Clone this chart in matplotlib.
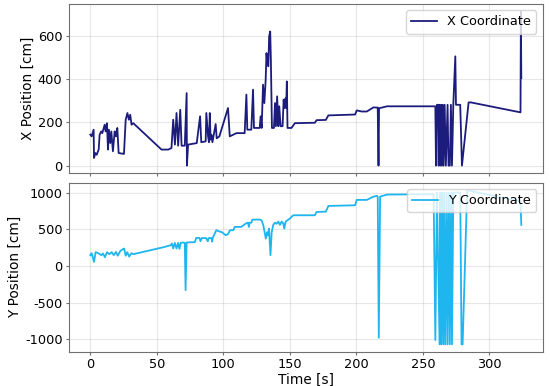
import matplotlib
matplotlib.use("Agg")
import matplotlib.pyplot as plt

plt.rcParams["axes.unicode_minus"] = False

# X position trace (time in s, position in cm)
t_x = [0, 1, 2.5, 2.8, 3.8, 4.8, 6.3, 7, 8.2, 9, 10.8, 11.5, 12.5, 13.3, 14, 15, 15.8, 17,
       18.3, 19.3, 20.3, 21.3, 25.3, 26.6, 27.9, 29, 30, 31, 32.3, 53.5, 58.6, 61, 62.3, 63.6,
       64.8, 66, 67.6, 68.6, 71, 72.4, 72.6, 73.5, 80, 82.5, 83.4, 86.7, 87.2, 88.5, 89.2, 89.8,
       90.4, 91, 91.8, 94.2, 95, 97, 103.5, 104.8, 109.8, 116, 117.3, 118, 121, 122.3, 123,
       127.3, 128, 128.8, 129.8, 130.8, 131.8, 132.4, 133, 133.8, 134.4, 135.2, 135.7, 136.5,
       138, 138.8, 139.5, 140.4, 141.3, 142, 143, 144.5, 145.3, 146, 146.8, 147.2, 147.7, 148.2,
       151.2, 153.7, 168.8, 170, 177, 178.9, 199, 200.2, 204, 207.8, 212.8, 216, 216.6, 217,
       223, 259.3, 259.8, 260.5, 261.5, 261.8, 262.2, 263, 263.6, 264.3, 264.8, 265.5, 266.3,
       267.2, 268.5, 269.2, 270.2, 271, 271.8, 272.8, 274.3, 274.8, 278, 279.3, 284.3, 286,
       323.3, 323.6, 323.9]
x_pos = [143, 135, 166, 35, 58, 50, 74, 143, 158, 150, 189, 158, 196, 74, 166, 104, 158, 66,
         158, 135, 174, 58, 54, 212, 243, 212, 235, 189, 196, 74, 74, 81, 212, 97,
         243, 92, 258, 92, 92, 335, 0, 97, 104, 228, 108, 112, 243, 135, 108, 243,
         120, 143, 108, 192, 126, 135, 266, 135, 150, 150, 328, 166, 166, 351, 174,
         174, 228, 174, 374, 289, 397, 520, 474, 459, 597, 620, 489, 174,
         174, 289, 182, 320, 182, 274, 182, 182, 305, 266, 312, 266, 389, 174,
         174, 196, 198, 210, 211, 232, 236, 255, 250, 250, 269, 268, 0, 265,
         274, 274, 0, 281, 281, 0, 281, 0, 281, 0, 281, 0, 281,
         0, 281, 0, 0, 281, 0, 281, 505, 281, 281, 0, 292, 292,
         246, 712, 405]

# Y position trace
t_y = [0, 1, 2.8, 4, 6, 8.3, 9.5, 11, 12.6, 14.3, 16, 17.6, 19.3, 20.6, 22.6, 25.4, 26.6,
       27.8, 29.2, 31, 32.3, 56, 60.5, 61.3, 62.3, 63.5, 64.8, 66, 67, 68, 69.8, 71, 71.6,
       72.4, 78.6, 79.6, 82, 82.8, 83.7, 87, 88.3, 89, 91, 91.6, 92, 94.7, 97, 99, 101.6,
       103.3, 105, 107.5, 108.5, 113.5, 116.8, 118.5, 119.2, 119.8, 121, 121.8, 127.5, 128.8,
       130, 131.9, 132.8, 133.5, 134.3, 135.4, 136.3, 137.5, 138.8, 140, 141.3, 142.5, 143.8,
       145, 145.8, 146.8, 150, 152.5, 168.8, 170, 177, 178.9, 199, 200.2, 207.8, 212.8, 215.3,
       216, 216.8, 217.8, 223, 258, 259.3, 260.5, 262.5, 263, 263.8, 264.5, 265.3, 266, 266.8,
       267.8, 268.5, 269.5, 270.2, 271.2, 271.8, 272.8, 278, 279, 279.8, 283.2, 323.3, 323.6,
       323.9]
y_pos = [147, 174, 56, 188, 174, 147, 170, 120, 188, 160, 188, 147, 192, 140, 206, 238, 140,
         188, 128, 174, 160, 260, 283, 306, 238, 315, 238, 315, 233, 315, 320, 315, -329,
         320, 325, 382, 382, 337, 380, 380, 337, 380, 380, 330, 382, 487, 470, 460, 420,
         430, 487, 487, 532, 532, 578, 590, 532, 590, 590, 632, 632, 620,
         555, 374, 460, 415, 508, 147, 460, 560, 590, 575, 605, 560, 605,
         580, 510, 605, 646, 691, 691, 736, 740, 818, 827, 900, 900, 945, 955,
         945, -978, 945, 973, 977, -1009, 1000, -1068, 1000, -1068, 1000, -1068, 1000, -1068,
         1000, -1068, 1000, -1068, 1000, -1068, 1000, 1000, -1068, -1068, 1031, 880, 700,
         560]

FS = 9.3
fig, (ax1, ax2) = plt.subplots(2, 1, sharex=True, figsize=(5.5, 3.86), dpi=100)
fig.subplots_adjust(left=0.125, right=0.987, top=0.99, bottom=0.088, hspace=0.055)

ax1.plot(t_x, x_pos, color="#1c1c7c", lw=1.3, label="X Coordinate")
ax2.plot(t_y, y_pos, color="#1fb5ef", lw=1.3, label="Y Coordinate")

ax1.set_ylabel("X Position [cm]", fontsize=FS + 0.5, labelpad=2)
ax2.set_ylabel("Y Position [cm]", fontsize=FS + 0.5, labelpad=2)
ax2.set_xlabel("Time [s]", fontsize=FS + 0.5, labelpad=1)

ax1.set_yticks([0, 200, 400, 600])
ax2.set_yticks([-1000, -500, 0, 500, 1000])

for ax in (ax1, ax2):
    ax.grid(True, color="#b0b0b0", alpha=0.3, lw=0.8)
    ax.tick_params(labelsize=FS, length=2, pad=2.5, color="#707070")
    for s in ax.spines.values():
        s.set_color("#707070")
    ax.legend(loc="upper right", fontsize=FS)

fig.savefig("out.png", dpi=100)
